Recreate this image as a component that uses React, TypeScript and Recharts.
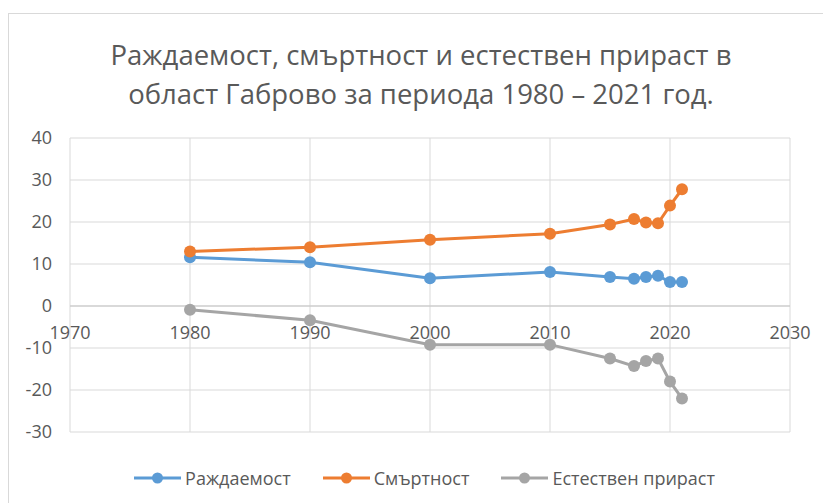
import React from "react";
import {
  LineChart,
  Line,
  XAxis,
  YAxis,
  CartesianGrid,
  Legend,
  ReferenceLine,
} from "recharts";

const years = [1980, 1990, 2000, 2010, 2015, 2017, 2018, 2019, 2020, 2021];
const birthRate = [11.6, 10.4, 6.6, 8.1, 6.9, 6.5, 6.9, 7.2, 5.7, 5.7];
const deathRate = [13.0, 14.0, 15.8, 17.2, 19.4, 20.7, 19.9, 19.7, 23.9, 27.8];
const naturalGrowth = [-0.9, -3.4, -9.2, -9.2, -12.5, -14.3, -13.1, -12.5, -18.0, -22.0];

const xTicks = [1970, 1980, 1990, 2000, 2010, 2020, 2030];
const yTicks = [-30, -20, -10, 0, 10, 20, 30, 40];

const seriesNames = ["Раждаемост", "Смъртност", "Естествен прираст"];
const seriesKeys = ["birth", "death", "growth"];
const seriesColors = ["#5B9BD5", "#ED7D31", "#A5A5A5"];

const titleLines = [
  "Раждаемост, смъртност и естествен прираст в",
  "област Габрово за периода 1980 – 2021 год.",
];

const data = years.map((y, i) => ({
  year: y,
  birth: birthRate[i],
  death: deathRate[i],
  growth: naturalGrowth[i],
}));

const W = 823;
const H = 503;
const M = { top: 138, right: 33, bottom: 70, left: 0 };
const YAXIS_W = 70;
const PLOT_H = H - M.top - M.bottom;
const Y_MIN = -30;
const Y_MAX = 40;
const ZERO_Y = M.top + (Y_MAX / (Y_MAX - Y_MIN)) * PLOT_H;

const FONT = "'Open Sans', sans-serif";
const TEXT = "#595959";

const XTick = (props: any) => {
  const { x, payload } = props;
  return (
    <text
      x={x}
      y={ZERO_Y + 32}
      textAnchor="middle"
      fill={TEXT}
      fontSize={18}
      fontFamily={FONT}
    >
      {payload.value}
    </text>
  );
};

const LegendContent = () => (
  <div
    style={{
      display: "flex",
      justifyContent: "center",
      alignItems: "center",
      gap: 32,
      fontFamily: FONT,
      fontSize: 18,
      color: TEXT,
      paddingLeft: 26,
    }}
  >
    {seriesNames.map((n, i) => (
      <div key={n} style={{ display: "flex", alignItems: "center", gap: 4 }}>
        <svg width={47} height={14}>
          <line x1={0} y1={7} x2={47} y2={7} stroke={seriesColors[i]} strokeWidth={3} />
          <circle cx={23.5} cy={7} r={5.5} fill={seriesColors[i]} />
        </svg>
        <span style={{ lineHeight: "20px" }}>{n}</span>
      </div>
    ))}
  </div>
);

export default function App() {
  return (
    <div style={{ position: "absolute", left: 0, top: 0, width: W, height: H, overflow: "hidden", background: "#fff" }}>
      <div
        style={{
          position: "absolute",
          left: 8,
          top: 13,
          width: 900,
          height: 600,
          border: "1px solid #d9d9d9",
          boxSizing: "border-box",
        }}
      />
      <div
        style={{
          position: "absolute",
          left: 0,
          top: 35,
          width: 842,
          textAlign: "center",
          fontFamily: FONT,
          fontSize: 27.5,
          lineHeight: "39px",
          color: TEXT,
        }}
      >
        {titleLines.map((t) => (
          <div key={t}>{t}</div>
        ))}
      </div>
      <div style={{ position: "absolute", left: 0, top: 0 }}>
        <LineChart width={W} height={H} data={data} margin={M}>
          <CartesianGrid stroke="#d9d9d9" strokeWidth={1} />
          <XAxis
            dataKey="year"
            type="number"
            domain={[1970, 2030]}
            ticks={xTicks}
            interval={0}
            axisLine={false}
            tickLine={false}
            height={1}
            tick={<XTick />}
          />
          <YAxis
            type="number"
            domain={[Y_MIN, Y_MAX]}
            ticks={yTicks}
            interval={0}
            width={YAXIS_W}
            axisLine={false}
            tickLine={false}
            tickSize={0}
            tickMargin={18}
            tick={{ fill: TEXT, fontSize: 18, fontFamily: FONT }}
          />
          <ReferenceLine y={0} stroke="#c6c6c6" strokeWidth={1} />
          {seriesKeys.map((k, i) => (
            <Line
              key={k}
              dataKey={k}
              name={seriesNames[i]}
              type="linear"
              stroke={seriesColors[i]}
              strokeWidth={3}
              dot={{ r: 6, fill: seriesColors[i], stroke: seriesColors[i], strokeWidth: 0 }}
              activeDot={false}
              isAnimationActive={false}
            />
          ))}
          <Legend
            verticalAlign="middle"
            align="center"
            content={<LegendContent />}
            wrapperStyle={{ top: 468, left: 0, width: W }}
          />
        </LineChart>
      </div>
    </div>
  );
}
